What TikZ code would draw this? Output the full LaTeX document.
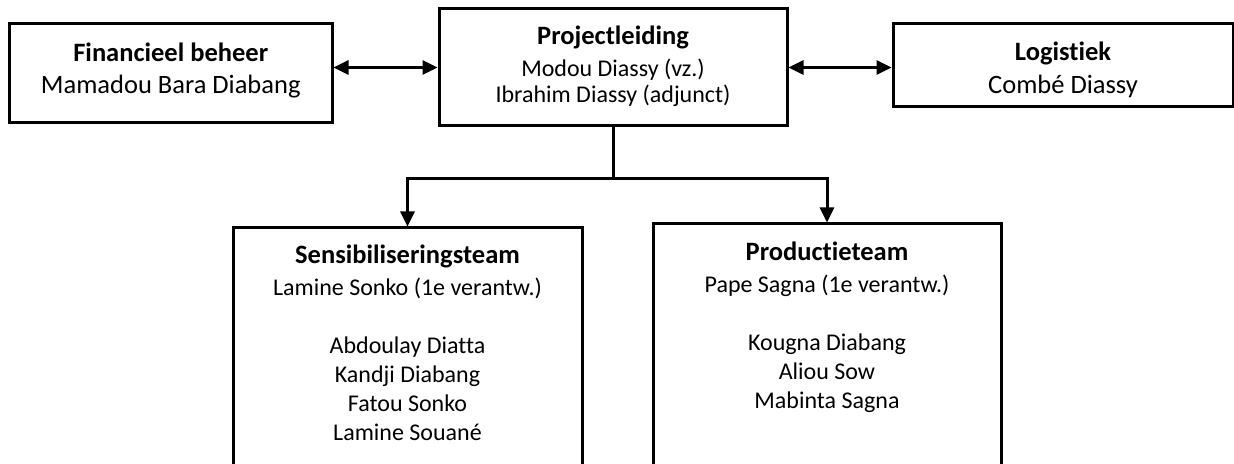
\documentclass[tikz,border=0pt]{standalone}
\usepackage{fontspec}
\setmainfont{Carlito}[Ligatures=NoCommon]
\usetikzlibrary{arrows.meta}

\newcommand{\boxtitle}[1]{{\bfseries\fontsize{13.25}{16.2}\selectfont #1}}

\tikzset{
	box/.style={draw,line width=1.5pt,inner sep=0pt},
	teamtext/.style={anchor=north,align=center,inner sep=0pt,font=\fontsize{12}{14.5}\selectfont},
	sidetext/.style={anchor=north,align=center,inner sep=0pt,font=\fontsize{13.25}{16.2}\selectfont},
	link/.style={line width=1.5pt},
	oneway/.style={-{Triangle[length=7.5pt,width=7pt]}},
	twoway/.style={{Triangle[length=7.5pt,width=7pt]}-{Triangle[length=7.5pt,width=7pt]}}
}

\begin{document}
\begin{tikzpicture}[x=0.5pt,y=0.5pt]

\useasboundingbox (0,0) rectangle (1234,464);
\clip (0,0) rectangle (1234,464);

% boxes
\node[box,minimum width=322.5*0.5pt,minimum height=99*0.5pt] (fin) at (170.75,390.5) {};
\node[box,minimum width=348*0.5pt,minimum height=117*0.5pt] (proj) at (613,396.5) {};
\node[box,minimum width=340*0.5pt,minimum height=83*0.5pt] (log) at (1063,398.5) {};
\node[box,minimum width=349*0.5pt,minimum height=272*0.5pt] (sens) at (407.5,100) {};
\node[box,minimum width=348*0.5pt,minimum height=276*0.5pt] (prod) at (827,102) {};

% texts
\node[sidetext] (fintxt) at (170.75,421.7) {\textbf{Financieel beheer}\\Mamadou Bara Diabang};
\node[sidetext] (logtxt) at (1063,422.2) {\textbf{Logistiek}\\Combé Diassy};
\node[teamtext] (projtxt) at (613,438.7) {\boxtitle{Projectleiding}\\[1.5pt]Modou Diassy (vz.)\\[-1.5pt]Ibrahim Diassy (adjunct)};
\node[teamtext] (senstxt) at (407.5,219.7) {\boxtitle{Sensibiliseringsteam}\\[1.5pt]Lamine Sonko (1e verantw.)\\[14.5pt]Abdoulay Diatta\\Kandji Diabang\\Fatou Sonko\\Lamine Souané};
\node[teamtext] (prodtxt) at (827,222.7) {\boxtitle{Productieteam}\\[1.5pt]Pape Sagna (1e verantw.)\\[14.5pt]Kougna Diabang\\Aliou Sow\\Mabinta Sagna};

% connectors
\draw[link,twoway] (proj.west -| fin.east) -- (proj.west);
\draw[link,twoway] (proj.east) -- (proj.east -| log.west);
\draw[link] (proj.south) -- ++(0,-51) coordinate (split);
\draw[link,oneway] (split) -| (sens.north);
\draw[link,oneway] (split) -| (prod.north);

\end{tikzpicture}
\end{document}
